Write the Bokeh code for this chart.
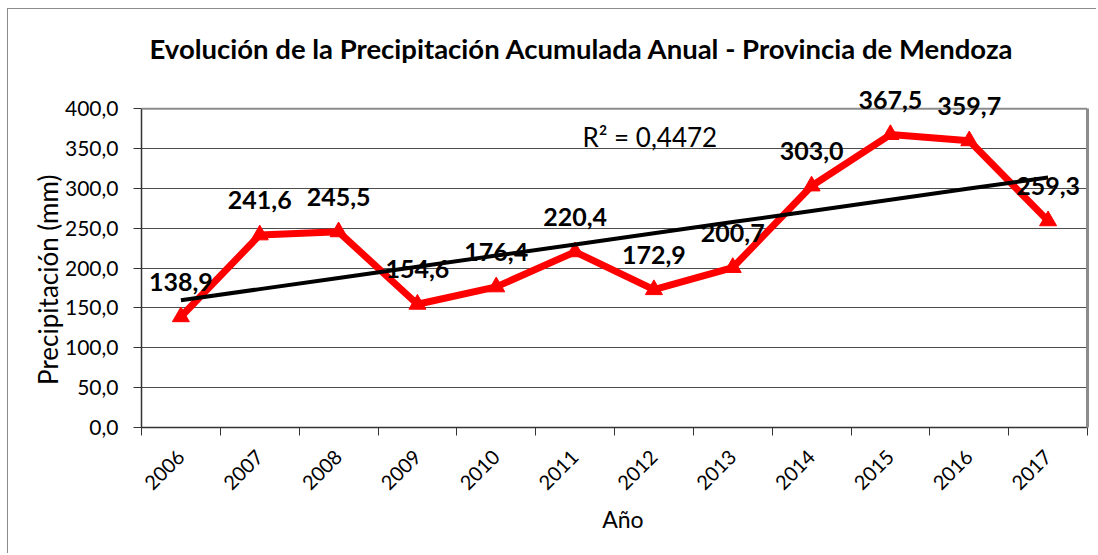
import numpy as np
from math import pi
from bokeh.plotting import figure
from bokeh.models import Range1d, FixedTicker, Label, LinearAxis, Span
from bokeh.embed import file_html
from bokeh.resources import INLINE

years = ["2006", "2007", "2008", "2009", "2010", "2011",
         "2012", "2013", "2014", "2015", "2016", "2017"]
precip = [138.9, 241.6, 245.5, 154.6, 176.4, 220.4,
          172.9, 200.7, 303.0, 367.5, 359.7, 259.3]
value_labels = ["138,9", "241,6", "245,5", "154,6", "176,4", "220,4",
                "172,9", "200,7", "303,0", "367,5", "359,7", "259,3"]
y_ticks = [0, 50, 100, 150, 200, 250, 300, 350, 400]
y_tick_labels = ["0,0", "50,0", "100,0", "150,0", "200,0",
                 "250,0", "300,0", "350,0", "400,0"]
y_max = 400
r2_text = "R² = 0,4472"
title_text = "Evolución de la Precipitación Acumulada Anual - Provincia de Mendoza"
x_title = "Año"
y_title = "Precipitación (mm)"

FONT = "Lato"
GRAY = "#8c8c8c"
DARK = "#333333"
NB = "\u00a0"

xc = [i + 0.5 for i in range(len(years))]
slope, intercept = np.polyfit(xc, precip, 1)
trend_y = [slope * v + intercept for v in xc]

# the frame reaches a little above the 400 line so that the data labels are not clipped
p = figure(width=1089, height=545, output_backend="svg", toolbar_location=None,
           x_range=Range1d(0, len(years)), y_range=Range1d(0, 429.1),
           min_border_left=133, min_border_right=10, min_border_top=76,
           min_border_bottom=127)
p.styles = {"margin-left": "7px", "margin-top": "8px",
            "border-left": "1px solid #8c8c8c", "border-top": "1px solid #8c8c8c"}

p.title.text = title_text
p.title.align = "left"
p.title.offset = 8
p.title.text_font = FONT
p.title.text_font_size = "27.5px"
p.title.text_font_style = "bold"
p.title.text_color = "black"
p.title.standoff = 41

p.outline_line_color = None

p.xgrid.visible = False
p.ygrid.ticker = FixedTicker(ticks=y_ticks[:-1])
p.ygrid.grid_line_color = "#4d4d4d"
p.ygrid.grid_line_width = 1
p.add_layout(Span(location=y_max, dimension="width", line_color=GRAY, line_width=2))

ya = p.yaxis[0]
ya.bounds = (0, y_max)
ya.ticker = FixedTicker(ticks=y_ticks)
ya.major_label_overrides = dict(zip(y_ticks, y_tick_labels))
ya.major_tick_out = 8
ya.major_tick_in = 0
ya.minor_tick_out = 0
ya.minor_tick_in = 0
ya.major_label_standoff = 15
ya.major_label_text_font = FONT
ya.major_label_text_font_size = "21px"
ya.major_label_text_color = "black"
ya.axis_line_color = DARK
ya.axis_line_width = 1.5
ya.major_tick_line_color = DARK
ya.axis_label = y_title + NB * 7
ya.axis_label_text_font = FONT
ya.axis_label_text_font_style = "normal"
ya.axis_label_text_font_size = "26px"
ya.axis_label_text_color = "black"
ya.axis_label_standoff = -2

# right border of the plot area
rax = LinearAxis(ticker=FixedTicker(ticks=[]), bounds=(0, y_max),
                 axis_line_color=GRAY, axis_line_width=3,
                 major_tick_line_color=None, minor_tick_line_color=None)
p.add_layout(rax, "right")

xa = p.xaxis[0]
xa.ticker = FixedTicker(ticks=xc, minor_ticks=list(range(len(years) + 1)))
xa.major_label_overrides = dict(zip(xc, years))
xa.major_tick_out = 0
xa.major_tick_in = 0
xa.minor_tick_out = 8
xa.minor_tick_in = 0
xa.minor_tick_line_color = DARK
xa.major_label_orientation = pi / 4
xa.major_label_standoff = 18
xa.major_label_text_font = FONT
xa.major_label_text_font_size = "20px"
xa.major_label_text_color = "black"
xa.axis_line_color = DARK
xa.axis_line_width = 1.5
xa.axis_label = NB * 3 + x_title
xa.axis_label_text_font = FONT
xa.axis_label_text_font_style = "normal"
xa.axis_label_text_font_size = "23px"
xa.axis_label_text_color = "black"
xa.axis_label_standoff = 6

p.line(xc, precip, line_color="#ff0000", line_width=7)
p.scatter(xc, precip, marker="triangle", size=17, color="#ff0000")
p.line(xc, trend_y, line_color="black", line_width=4)

for xv, yv, t in zip(xc, precip, value_labels):
    p.add_layout(Label(x=xv, y=yv, text=t, y_offset=35,
                       text_align="center", text_baseline="middle",
                       text_font=FONT, text_font_size="25px", text_font_style="bold",
                       text_color="black"))

p.add_layout(Label(x=5.594, y=364.6, text=r2_text, text_align="left", text_baseline="middle",
                   text_font=FONT, text_font_size="26px", text_color="black"))

open("out.html", "w").write(file_html(p, INLINE))
